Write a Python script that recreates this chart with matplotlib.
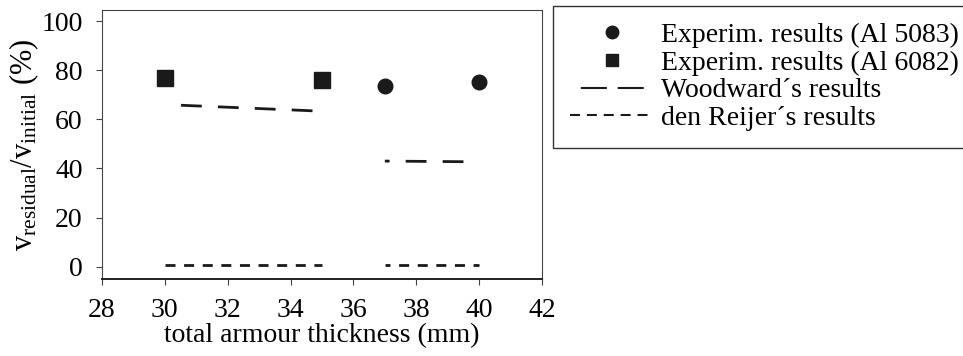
import matplotlib
matplotlib.use("Agg")
import matplotlib.pyplot as plt

plt.rcParams['font.family'] = ['Liberation Serif', 'DejaVu Serif']
plt.rcParams['mathtext.fontset'] = 'custom'
plt.rcParams['mathtext.rm'] = 'Liberation Serif'
plt.rcParams['mathtext.it'] = 'Liberation Serif'

# data
al5083_x = [37, 40]
al5083_y = [73.5, 75]
al6082_x = [30, 35]
al6082_y = [77, 76]
woodward_a_x = [30, 35]
woodward_a_y = [66, 63.3]
woodward_b_x = [37, 40]
woodward_b_y = [43, 42.7]
reijer_a_x = [30, 35]
reijer_a_y = [0.5, 0.5]
reijer_b_x = [37, 40]
reijer_b_y = [0.5, 0.5]
x_ticks = [28, 30, 32, 34, 36, 38, 40, 42]
y_ticks = [0, 20, 40, 60, 80, 100]

ink = "#1a1a1a"

fig = plt.figure(figsize=(9.63, 3.56), dpi=100)
ax = fig.add_axes([102/963, 1 - 279/356, 440/963, 269/356])

# woodward: long dashes (in linewidth units, lw=2)
ax.plot(woodward_a_x, woodward_a_y, color=ink, lw=2, linestyle=(7.5, (7.5, 5.8)), dash_capstyle="butt")
ax.plot(woodward_b_x, woodward_b_y, color=ink, lw=2, linestyle=(5.8, (7.5, 5.8)), dash_capstyle="butt")
# den Reijer: short dashes
ax.plot(reijer_a_x, reijer_a_y, color=ink, lw=2, linestyle=(0, (3.6, 3.1)), dash_capstyle="butt")
ax.plot(reijer_b_x, reijer_b_y, color=ink, lw=2, linestyle=(1.8, (3.6, 3.1)), dash_capstyle="butt")

ax.plot(al5083_x, al5083_y, "o", color=ink, ms=10.5, ls="none")
ax.plot(al6082_x, al6082_y, "s", color=ink, ms=11, ls="none")

ax.set_xlim(28, 42)
ax.set_ylim(-5, 104.5)
ax.set_xticks(x_ticks)
ax.set_yticks(y_ticks)
ax.tick_params(labelsize=20, length=4.5, width=0.8, color="#444")
ax.tick_params(axis="x", pad=9)
ax.tick_params(axis="y", pad=9.5)
for s in ["left", "top", "right"]:
    ax.spines[s].set_linewidth(0.8)
    ax.spines[s].set_color("#444")
ax.spines["bottom"].set_linewidth(1.4)
ax.spines["bottom"].set_color("#222")

ax.set_xlabel("total armour thickness (mm)", fontsize=20, labelpad=0)
ax.set_ylabel(r"v$_{\mathregular{residual}}$/v$_{\mathregular{initial}}$ (%)", fontsize=22, labelpad=0)

# legend proxies
h1 = plt.Line2D([], [], marker="o", color=ink, ls="none", ms=9)
h2 = plt.Line2D([], [], marker="s", color=ink, ls="none", ms=9)
h3 = plt.Line2D([], [], color=ink, lw=1.5, linestyle=(12.5, (12.5, 5.2)), dash_capstyle="butt")
h4 = plt.Line2D([], [], color=ink, lw=1.5, linestyle=(0, (4.8, 3.3)), dash_capstyle="butt")
leg = fig.legend([h1, h2, h3, h4],
                 ["Experim. results (Al 5083)", "Experim. results (Al 6082)",
                  "Woodward\u00b4s results", "den Reijer\u00b4s results"],
                 loc="upper left", bbox_to_anchor=(553/963, 1 - 6/356),
                 fontsize=20, frameon=True, fancybox=False, framealpha=1,
                 handlelength=3.05, handletextpad=0.25, labelspacing=0.08,
                 borderpad=0.6, borderaxespad=0)
leg.get_frame().set_edgecolor("#333")
leg.get_frame().set_linewidth(1.0)

fig.savefig("out.png", dpi=100)
